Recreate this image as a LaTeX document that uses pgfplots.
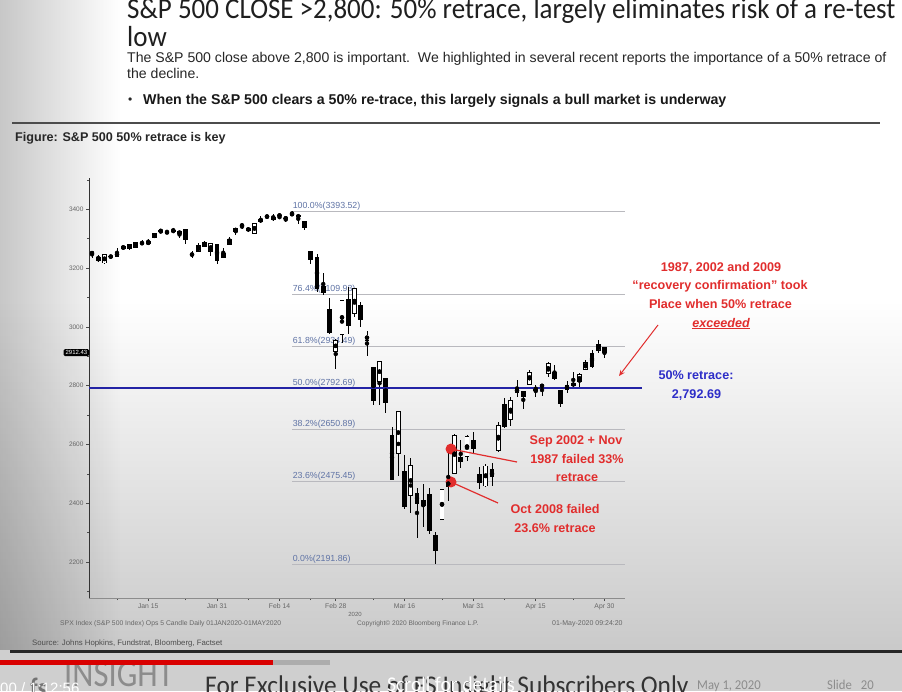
\documentclass[border=0pt]{standalone}
\usepackage{fontspec}
\setmainfont{Liberation Sans}
\newfontfamily\titlefont[FakeStretch=0.93]{Carlito}
\newfontfamily\footfont[FakeStretch=0.94]{Carlito}
\newfontfamily\logofont[FakeStretch=0.86]{Carlito}
\usepackage{pgfplots}
\pgfplotsset{compat=1.18}
\usepackage{pgfplotstable}
\usetikzlibrary{arrows.meta,fadings}
\definecolor{fibtext}{RGB}{95,115,165}
\definecolor{fibline}{RGB}{185,185,190}
\definecolor{retblue}{RGB}{35,35,165}
\definecolor{annred}{RGB}{225,45,45}
\definecolor{annblue}{RGB}{45,45,200}

\pgfplotstableread{
i O H L C
0 3244.67 3258.14 3235.53 3257.85
1 3226.36 3246.15 3222.34 3234.85
2 3217.55 3246.84 3214.64 3246.28
3 3241.86 3244.91 3232.43 3237.18
4 3238.59 3267.07 3236.67 3253.05
5 3266.03 3275.58 3263.67 3274.70
6 3281.81 3282.99 3260.86 3265.35
7 3271.13 3288.13 3268.43 3288.13
8 3285.35 3294.25 3277.19 3283.15
9 3282.27 3298.66 3280.69 3289.29
10 3302.97 3317.11 3302.82 3316.81
11 3323.66 3329.88 3318.86 3329.62
12 3321.03 3329.79 3316.61 3320.79
13 3330.02 3337.77 3320.04 3321.75
14 3315.77 3326.88 3301.87 3325.54
15 3333.10 3333.18 3281.53 3295.47
16 3247.16 3258.85 3234.50 3243.63
17 3255.35 3285.78 3253.22 3276.24
18 3289.46 3293.47 3271.89 3273.40
19 3256.45 3285.91 3242.80 3283.66
20 3282.33 3282.33 3214.68 3225.52
21 3235.66 3268.44 3235.66 3248.92
22 3280.61 3306.92 3280.61 3297.59
23 3324.91 3337.58 3313.75 3334.69
24 3344.92 3347.96 3334.39 3345.78
25 3335.54 3341.42 3322.12 3327.71
26 3318.28 3352.26 3317.77 3352.09
27 3365.87 3375.63 3352.72 3357.75
28 3370.50 3381.47 3369.72 3379.45
29 3365.90 3385.09 3360.52 3373.94
30 3378.08 3380.69 3366.15 3380.16
31 3369.04 3375.01 3355.61 3370.29
32 3380.39 3393.52 3378.83 3386.15
33 3380.45 3385.15 3350.56 3373.23
34 3360.50 3360.76 3328.45 3337.75
35 3257.61 3259.81 3214.65 3225.89
36 3238.94 3246.99 3118.77 3128.21
37 3139.90 3182.51 3108.99 3116.39
38 3062.54 3097.07 2977.39 2978.76
39 2916.90 2959.72 2855.84 2954.22
40 2974.28 3090.96 2945.19 3090.23
41 3096.46 3136.72 2976.63 3003.37
42 3045.75 3130.97 3034.38 3130.12
43 3075.70 3083.04 2999.83 3023.94
44 2954.20 2985.93 2901.54 2972.37
45 2863.89 2863.89 2734.43 2746.56
46 2813.48 2882.59 2734.00 2882.23
47 2825.60 2825.60 2707.22 2741.38
48 2630.86 2660.95 2478.86 2480.64
49 2569.99 2711.33 2492.37 2711.02
50 2508.59 2562.98 2380.94 2386.13
51 2425.66 2553.93 2367.04 2529.19
52 2436.50 2453.57 2280.52 2398.10
53 2393.48 2466.97 2319.78 2409.39
54 2431.94 2453.01 2295.56 2304.92
55 2290.71 2300.73 2191.86 2237.40
56 2344.44 2449.71 2344.44 2447.33
57 2457.77 2571.42 2407.53 2475.56
58 2501.29 2637.01 2500.72 2630.07
59 2555.87 2615.91 2520.02 2541.47
60 2558.98 2631.80 2545.28 2626.65
61 2614.69 2641.39 2571.15 2584.59
62 2498.08 2522.75 2447.49 2470.50
63 2458.54 2533.22 2455.79 2526.90
64 2514.92 2538.18 2459.96 2488.65
65 2578.28 2676.85 2574.57 2663.68
66 2738.65 2756.89 2657.67 2659.41
67 2685.00 2760.75 2663.30 2749.98
68 2776.99 2818.57 2762.36 2789.82
69 2782.46 2782.46 2721.17 2761.63
70 2805.10 2851.85 2805.10 2846.06
71 2795.64 2801.88 2761.54 2783.36
72 2799.34 2806.51 2764.32 2799.55
73 2842.43 2879.22 2830.88 2874.56
74 2845.62 2868.98 2820.43 2823.16
75 2784.81 2785.54 2727.10 2736.56
76 2787.89 2815.10 2775.95 2799.31
77 2810.42 2844.90 2794.26 2797.80
78 2812.64 2842.71 2791.76 2836.74
79 2854.65 2887.72 2852.89 2878.48
80 2909.96 2921.15 2860.71 2863.39
81 2918.46 2954.86 2912.16 2939.51
82 2930.91 2930.91 2892.47 2912.43
}\spx

\begin{document}
\begin{tikzpicture}
\useasboundingbox (0,0) rectangle (902pt,-691pt);
% background
\fill[white] (0,0) rectangle (902pt,-691pt);
\shade[top color=white, bottom color=black!21] (0,-300pt) rectangle (902pt,-650pt);
\fill[black, opacity=0.22, path fading=east] (0,0) rectangle (120pt,-650pt);
\fill[black!19] (0,-650pt) rectangle (902pt,-691pt);

% title and text
\node[anchor=base west, inner sep=0pt, text=black!88, font=\titlefont\fontsize{29}{30}\selectfont] at (127pt,-18pt) {S\&P 500 CLOSE >2,800: 50\% retrace, largely eliminates risk of a re-test};
\node[anchor=base west, inner sep=0pt, text=black!88, font=\titlefont\fontsize{29}{30}\selectfont] at (127pt,-46pt) {low};
\node[anchor=base west, inner sep=0pt, text=black!85, font=\fontsize{14.1}{16}\selectfont] at (127pt,-62pt) {The S\&P 500 close above 2,800 is important.\ \ We highlighted in several recent reports the importance of a 50\% retrace of};
\node[anchor=base west, inner sep=0pt, text=black!85, font=\fontsize{14.1}{16}\selectfont] at (127pt,-78pt) {the decline.};
\node[anchor=base west, inner sep=0pt, text=black!85, font=\fontsize{12}{14}\selectfont] at (128pt,-103pt) {•};
\node[anchor=base west, inner sep=0pt, text=black!90, font=\bfseries\fontsize{14.2}{16}\selectfont] at (143pt,-104pt) {When the S\&P 500 clears a 50\% re-trace, this largely signals a bull market is underway};
\draw[black!70, line width=1.8pt] (12pt,-123pt) -- (880pt,-123pt);
\node[anchor=base west, inner sep=0pt, text=black!85, font=\bfseries\fontsize{12.6}{14}\selectfont] at (15pt,-141pt) {Figure: S\&P 500 50\% retrace is key};

\begin{axis}[
  at={(89pt,-598pt)}, anchor=south west,
  width=536pt, height=420pt, scale only axis,
  xmin=-0.48, xmax=85.28, ymin=2077.6, ymax=3506.5,
  clip=false,
  axis x line=bottom, axis y line=left,
  axis line style={-},
  x axis line style={black!45, line width=0.8pt},
  y axis line style={black!80, line width=0.8pt},
  ytick={2200,2400,2600,2800,3000,3200,3400},
  minor ytick={2100,2300,2500,2700,2900,3100,3300,3500},
  xtick={9,20,30,39,50,61,71,82},
  xticklabels={Jan 15,Jan 31,Feb 14,Feb 28,Mar 16,Mar 31,Apr 15,Apr 30},
  minor xtick={4,15,25,35,45,56,66,77},
  tick align=outside,
  major tick length=3pt, minor tick length=2pt,
  tick style={black!70, line width=0.6pt},
  y tick label style={font=\fontsize{6.5}{7}\selectfont, text=black!60, xshift=1pt},
  x tick label style={font=\fontsize{6.8}{7}\selectfont, text=black!60, yshift=1pt},
  /pgf/number format/1000 sep={},
  /pgf/number format/assume math mode=true,
]
% Fibonacci levels
\addplot[fibline, line width=0.7pt] coordinates {(32,3393.52) (85.28,3393.52)};
\addplot[fibline, line width=0.7pt] coordinates {(32,3109.93) (85.28,3109.93)};
\addplot[fibline, line width=0.7pt] coordinates {(32,2934.49) (85.28,2934.49)};
\addplot[fibline, line width=0.7pt] coordinates {(32,2650.89) (85.28,2650.89)};
\addplot[fibline, line width=0.7pt] coordinates {(32,2475.45) (85.28,2475.45)};
\addplot[fibline, line width=0.7pt] coordinates {(32,2191.86) (85.28,2191.86)};
\node[anchor=south west, inner sep=0.6pt, text=fibtext, font=\fontsize{8.8}{9}\selectfont] at (axis cs:32,3393.52) {100.0\%(3393.52)};
\node[anchor=south west, inner sep=0.6pt, text=fibtext, font=\fontsize{8.8}{9}\selectfont] at (axis cs:32,3109.93) {76.4\%(3109.93)};
\node[anchor=south west, inner sep=0.6pt, text=fibtext, font=\fontsize{8.8}{9}\selectfont] at (axis cs:32,2934.49) {61.8\%(2934.49)};
\node[anchor=south west, inner sep=0.6pt, text=fibtext, font=\fontsize{8.8}{9}\selectfont] at (axis cs:32,2792.69) {50.0\%(2792.69)};
\node[anchor=south west, inner sep=0.6pt, text=fibtext, font=\fontsize{8.8}{9}\selectfont] at (axis cs:32,2650.89) {38.2\%(2650.89)};
\node[anchor=south west, inner sep=0.6pt, text=fibtext, font=\fontsize{8.8}{9}\selectfont] at (axis cs:32,2475.45) {23.6\%(2475.45)};
\node[anchor=south west, inner sep=0.6pt, text=fibtext, font=\fontsize{8.8}{9}\selectfont] at (axis cs:32,2191.86) {0.0\%(2191.86)};

% wicks
\addplot[only marks, mark=none, error bars/.cd, y dir=both, y explicit, error mark=none,
  error bar style={draw=black, line width=0.7pt}]
  table[x=i, y expr={(\thisrow{H}+\thisrow{L})/2}, y error expr={(\thisrow{H}-\thisrow{L})/2}] {\spx};
% down bodies (filled)
\addplot[only marks, mark=none, restrict expr to domain={\thisrow{O}-\thisrow{C}}{0.001:100000},
  error bars/.cd, y dir=both, y explicit, error mark=none,
  error bar style={draw=black, line width=4.8pt}]
  table[x=i, y expr={(\thisrow{O}+\thisrow{C})/2}, y error expr={max(abs(\thisrow{O}-\thisrow{C})/2,1.3)}] {\spx};
% up bodies (hollow): outline
\addplot[only marks, mark=none, restrict expr to domain={\thisrow{C}-\thisrow{O}}{0:100000},
  error bars/.cd, y dir=both, y explicit, error mark=none,
  error bar style={draw=black, line width=4.8pt}]
  table[x=i, y expr={(\thisrow{O}+\thisrow{C})/2}, y error expr={abs(\thisrow{C}-\thisrow{O})/2+1.3}] {\spx};
% up bodies (hollow): interior
\addplot[only marks, mark=none, restrict expr to domain={\thisrow{C}-\thisrow{O}}{0:100000},
  error bars/.cd, y dir=both, y explicit, error mark=none,
  error bar style={draw=white, line width=3.2pt}]
  table[x=i, y expr={(\thisrow{O}+\thisrow{C})/2}, y error expr={max(abs(\thisrow{C}-\thisrow{O})/2-1.3,0)}] {\spx};

% 50% retrace line
\addplot[retblue, line width=1.8pt] coordinates {(-0.48,2792.69) (88,2792.69)};

% last price box
\node[anchor=east, fill=black, text=white, rounded corners=1.5pt, inner xsep=2pt, inner ysep=1.4pt, font=\fontsize{6}{7}\selectfont] at (axis cs:-0.4,2912.43) {2912.43};

% red callout dots
\fill[annred] (axis cs:57.44,2584.5) circle (5.5pt);
\fill[annred] (axis cs:57.44,2472.3) circle (5.5pt);
\end{axis}

% callout lines and arrow
\draw[annred, line width=1.2pt] (451pt,-449pt) -- (517pt,-462pt);
\draw[annred, line width=1.2pt] (451pt,-482pt) -- (498pt,-503pt);
\draw[annred, line width=1pt, -{Stealth[length=6pt,width=5pt]}] (658pt,-325pt) -- (619pt,-376pt);

% annotations
\begin{scope}[every node/.style={anchor=base, inner sep=0pt, font=\bfseries\fontsize{12.6}{14}\selectfont}]
\node[text=annred] at (721pt,-271pt) {1987, 2002 and 2009};
\node[text=annred] at (720pt,-289.5pt) {“recovery confirmation” took};
\node[text=annred] at (720.5pt,-308pt) {Place when 50\% retrace};
\node[text=annred] at (721pt,-327pt) {\itshape\underline{exceeded}};
\node[text=annblue] at (696pt,-379pt) {50\% retrace:};
\node[text=annblue] at (696.5pt,-398pt) {2,792.69};
\node[text=annred] at (576pt,-444.5pt) {Sep 2002 + Nov};
\node[text=annred] at (577pt,-463pt) {1987 failed 33\%};
\node[text=annred] at (577pt,-481pt) {retrace};
\node[text=annred] at (555pt,-513.5pt) {Oct 2008 failed};
\node[text=annred] at (555pt,-532pt) {23.6\% retrace};
\end{scope}

% chart footers
\node[anchor=base, inner sep=0pt, text=black!60, font=\fontsize{6}{7}\selectfont] at (355pt,-616pt) {2020};
\node[anchor=base west, inner sep=0pt, text=black!60, font=\fontsize{6.8}{7}\selectfont] at (60pt,-625pt) {SPX Index (S\&P 500 Index) Ops 5 Candle Daily 01JAN2020-01MAY2020};
\node[anchor=base west, inner sep=0pt, text=black!60, font=\fontsize{6.6}{7}\selectfont] at (357pt,-625pt) {Copyright\textcopyright\ 2020 Bloomberg Finance L.P.};
\node[anchor=base west, inner sep=0pt, text=black!60, font=\fontsize{7}{7}\selectfont] at (552pt,-625pt) {01-May-2020 09:24:20};
\node[anchor=base west, inner sep=0pt, text=black!70, font=\fontsize{7.8}{8}\selectfont] at (32pt,-645pt) {Source: Johns Hopkins, Fundstrat, Bloomberg, Factset};
\draw[black!85, line width=3pt] (10pt,-651pt) -- (902pt,-651pt);

% bottom bar
\node[anchor=base west, inner sep=0pt, text=black!55, font=\logofont\bfseries\fontsize{28}{28}\selectfont] at (30pt,-697pt) {fs};
\node[anchor=base west, inner sep=0pt, text=black!45, font=\logofont\fontsize{38}{38}\selectfont] at (64pt,-686pt) {INSIGHT};
\node[anchor=base west, inner sep=0pt, text=black!80, font=\footfont\fontsize{27}{28}\selectfont] at (205pt,-694pt) {For Exclusive Use of FS Insight Subscribers Only};
\node[anchor=base west, inner sep=0pt, text=black!45, font=\footfont\fontsize{13.5}{14}\selectfont] at (697pt,-689pt) {May 1, 2020};
\node[anchor=base west, inner sep=0pt, text=black!45, font=\footfont\fontsize{13.5}{14}\selectfont] at (827pt,-689pt) {Slide\hspace{9pt}20};
\fill[red!85!black] (0,-660pt) rectangle (273pt,-664.5pt);
\fill[black!32] (273pt,-660pt) rectangle (330pt,-664.5pt);
\node[anchor=base, inner sep=0pt, text=white, font=\footfont\fontsize{21}{22}\selectfont] at (451pt,-691pt) {Scroll for details};
\node[anchor=base west, inner sep=0pt, text=white, font=\fontsize{15}{16}\selectfont] at (-12.5pt,-693pt) {0:00 / 1:12:56};
\end{tikzpicture}
\end{document}
